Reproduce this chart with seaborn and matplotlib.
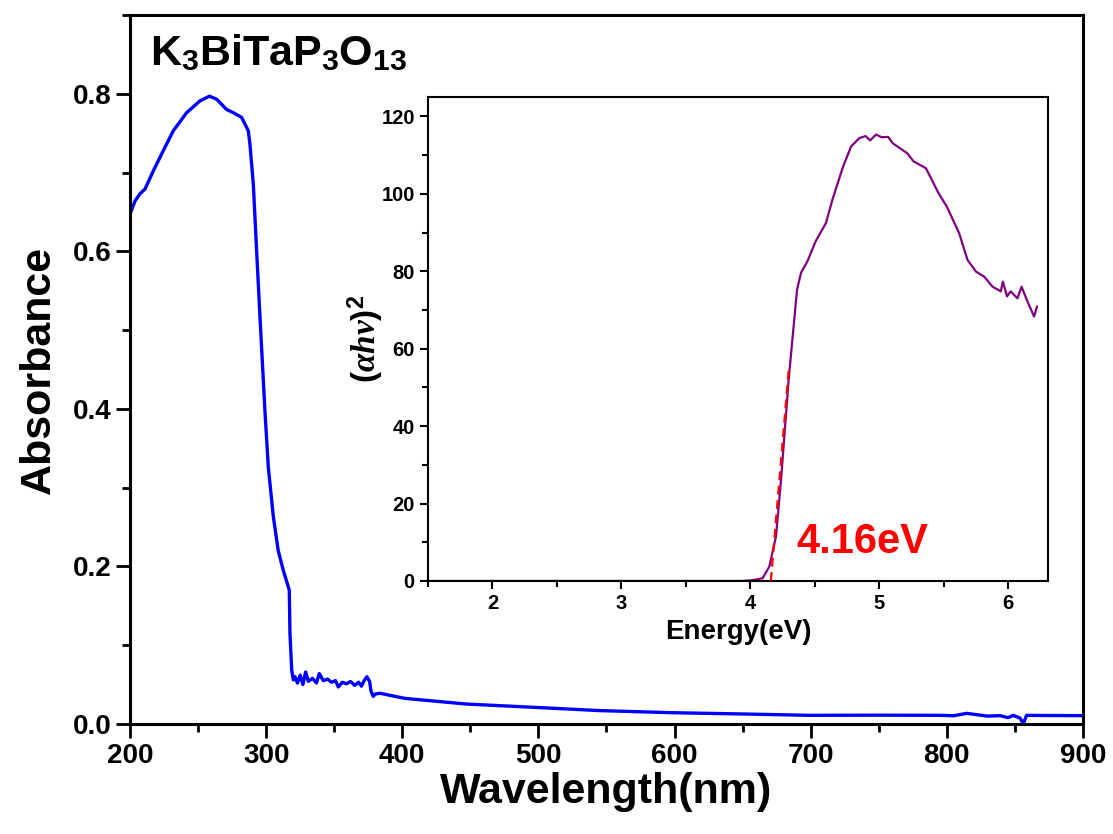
import matplotlib
matplotlib.use("agg")
import matplotlib.pyplot as plt
import pandas as pd
import seaborn as sns
from matplotlib.ticker import MultipleLocator, FormatStrFormatter

# Main UV-vis absorbance spectrum
wavelength = [200, 203.7, 207.3, 211, 217.1, 224.5, 231.8, 241.6, 251.4, 258.3,
              263.7, 271, 275.9, 282, 286.9, 288.1, 290.6, 293, 295.5, 299.2,
              301.6, 305.3, 308.9, 312.6, 317, 317.5, 318.8, 320, 321.2, 323,
              325, 327, 329, 331, 334, 337, 339, 342, 345, 348,
              351, 353, 356, 359, 362, 365, 368, 370, 372, 374,
              376, 377, 378.7, 380, 383.6, 402, 447.3, 498.7, 545, 599,
              650.4, 699.5, 750, 795, 805, 814.6, 830, 839, 845, 848.8,
              853.7, 856.2, 858.6, 870, 900]
absorbance = [0.647, 0.664, 0.673, 0.679, 0.702, 0.728, 0.753, 0.776, 0.791, 0.797,
              0.793, 0.780, 0.776, 0.770, 0.753, 0.736, 0.685, 0.601, 0.516, 0.395,
              0.326, 0.263, 0.220, 0.195, 0.170, 0.115, 0.068, 0.056, 0.060, 0.052,
              0.062, 0.050, 0.066, 0.054, 0.058, 0.052, 0.064, 0.055, 0.057, 0.053,
              0.055, 0.047, 0.053, 0.051, 0.054, 0.049, 0.053, 0.048, 0.055, 0.060,
              0.054, 0.042, 0.035, 0.038, 0.039, 0.0325, 0.0253, 0.021, 0.0170, 0.0143,
              0.0127, 0.0110, 0.0112, 0.011, 0.0105, 0.0135, 0.0100, 0.0106, 0.0080, 0.011,
              0.0076, 0.0005, 0.011, 0.0108, 0.0106]

# Inset: Tauc plot
energy = [1.5, 2.5, 3.5, 3.94, 4.018, 4.096, 4.148, 4.2, 4.239, 4.298,
          4.363, 4.394, 4.443, 4.507, 4.588, 4.637, 4.717, 4.782, 4.847, 4.895,
          4.93, 4.976, 5.02, 5.07, 5.104, 5.16, 5.217, 5.266, 5.363, 5.46,
          5.525, 5.621, 5.686, 5.751, 5.815, 5.88, 5.944, 5.96, 5.992, 6.02,
          6.073, 6.105, 6.153, 6.202, 6.225]
tauc = [0, 0, 0, 0, 0.2, 0.7, 3.7, 11.5, 26.1, 51.9,
        75.2, 79.6, 82.5, 87.7, 92.5, 98.4, 106.7, 112.2, 114.4, 114.9,
        113.8, 115.3, 114.6, 114.7, 113.1, 111.8, 110.5, 108.4, 106.6, 100.2,
        96.7, 89.8, 82.9, 79.9, 78.6, 76.0, 74.8, 77.3, 73.5, 74.8,
        73.0, 76.0, 72.0, 68.3, 70.9]

# Linear fit of the absorption edge
fit_energy = [4.16, 4.30]
fit_tauc = [0, 55]
band_gap_label = "4.16eV"

sns.set_theme(style="ticks")
plt.rcParams["font.family"] = ["Liberation Sans", "DejaVu Sans"]
plt.rcParams["font.weight"] = "bold"
plt.rcParams["mathtext.fontset"] = "custom"
plt.rcParams["mathtext.rm"] = "Liberation Sans:bold"
plt.rcParams["mathtext.it"] = "Liberation Serif:italic"
for key in ["text.color", "axes.labelcolor", "xtick.color", "ytick.color"]:
    plt.rcParams[key] = "black"

fig = plt.figure(figsize=(11.13, 8.34), dpi=100)
ax = fig.add_axes([0.1168, 0.1319, 0.8562, 0.8501])

main_df = pd.DataFrame({"Wavelength": wavelength, "Absorbance": absorbance})
sns.lineplot(data=main_df, x="Wavelength", y="Absorbance", ax=ax, color="#0000ff",
             linewidth=2.4, sort=False, estimator=None)
ax.set_xlim(200, 900)
ax.set_ylim(0, 0.9)
ax.xaxis.set_major_locator(MultipleLocator(100))
ax.xaxis.set_minor_locator(MultipleLocator(50))
ax.yaxis.set_major_locator(MultipleLocator(0.2))
ax.yaxis.set_minor_locator(MultipleLocator(0.1))
ax.yaxis.set_major_formatter(FormatStrFormatter("%.1f"))
ax.tick_params(which="major", direction="out", length=10, width=2, labelsize=20)
ax.tick_params(which="minor", direction="out", length=6, width=2)
for lab in ax.get_xticklabels() + ax.get_yticklabels():
    lab.set_fontweight("bold")
for sp in ax.spines.values():
    sp.set_linewidth(2.2)
    sp.set_color("black")
ax.set_xlabel("Wavelength(nm)", fontsize=31, fontweight="bold", labelpad=2)
ax.set_ylabel("Absorbance", fontsize=31, fontweight="bold", labelpad=10)
ax.text(0.021, 0.9295, r"K$_3$BiTaP$_3$O$_{13}$", transform=ax.transAxes,
        fontsize=31, fontweight="bold", va="baseline", ha="left")

# Inset axes
ins = fig.add_axes([0.3845, 0.3034, 0.5571, 0.5803])
tauc_df = pd.DataFrame({"Energy": energy, "Tauc": tauc})
sns.lineplot(data=tauc_df, x="Energy", y="Tauc", ax=ins, color="#800080",
             linewidth=1.6, sort=False, estimator=None)
ins.plot(fit_energy, fit_tauc, color="red", linestyle=(0, (4, 2.5)), linewidth=1.6, zorder=3)
ins.set_xlim(1.5, 6.31)
ins.set_ylim(0, 125)
ins.xaxis.set_major_locator(MultipleLocator(1))
ins.xaxis.set_minor_locator(MultipleLocator(0.5))
ins.yaxis.set_major_locator(MultipleLocator(20))
ins.yaxis.set_minor_locator(MultipleLocator(10))
ins.tick_params(which="major", direction="out", length=6, width=1.5, labelsize=14.5)
ins.tick_params(which="minor", direction="out", length=4, width=1.5)
for lab in ins.get_xticklabels() + ins.get_yticklabels():
    lab.set_fontweight("bold")
for sp in ins.spines.values():
    sp.set_linewidth(1.5)
    sp.set_color("black")
ins.set_xlabel("Energy(eV)", fontsize=20, fontweight="bold", labelpad=4)
ins.set_ylabel(r"$(\alpha h\nu)^2$", fontsize=24)
ins.yaxis.set_label_coords(-0.068, 0.5)
ins.text(4.36, 7.2, band_gap_label, color="red", fontsize=30, fontweight="bold",
         ha="left", va="baseline")

fig.savefig("out.png", dpi=100)
